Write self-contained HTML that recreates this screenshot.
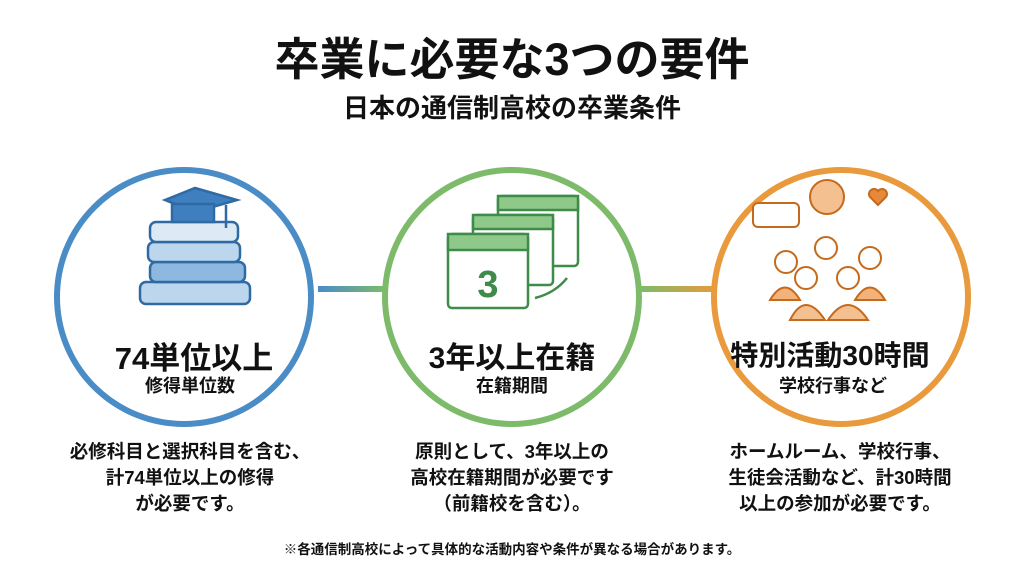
<!DOCTYPE html>
<html><head><meta charset="utf-8"><style>
body{margin:0;width:1024px;height:572px;background:#fff;overflow:hidden;font-family:"Liberation Sans","Noto Sans CJK JP",sans-serif;color:#111;position:relative}
.t{position:absolute;left:0;width:1024px;text-align:center;font-weight:bold}
.c{position:absolute;text-align:center;font-weight:bold;width:300px}
</style></head><body>
<div class="t" style="top:23px;font-size:45px">卒業に必要な3つの要件</div>
<div class="t" style="top:88px;font-size:26px">日本の通信制高校の卒業条件</div>
<svg width="1024" height="572" style="position:absolute;left:0;top:0">
<defs><linearGradient id="g1"><stop offset="0" stop-color="#4a8cc6"/><stop offset="1" stop-color="#7dbb6a"/></linearGradient>
<linearGradient id="g2"><stop offset="0" stop-color="#7dbb6a"/><stop offset="1" stop-color="#e89a3c"/></linearGradient></defs>
<rect x="318" y="286" width="68" height="6" fill="url(#g1)"/>
<rect x="640" y="286" width="76" height="6" fill="url(#g2)"/>
<circle cx="184" cy="297" r="127" fill="#fff" stroke="#4a8cc6" stroke-width="6"/>
<circle cx="512" cy="297" r="127" fill="#fff" stroke="#7dbb6a" stroke-width="6"/>
<circle cx="841" cy="297" r="127" fill="#fff" stroke="#e89a3c" stroke-width="6"/>
<g stroke="#2f6aa3" stroke-width="2.5" fill="#bcd6ee">
<rect x="140" y="282" width="110" height="22" rx="6"/>
<rect x="150" y="262" width="95" height="20" rx="6" fill="#8fb8e0"/>
<rect x="148" y="242" width="92" height="20" rx="6"/>
<rect x="150" y="222" width="88" height="20" rx="6" fill="#dde9f5"/>
<path d="M165 200 l30 -12 l42 12 l-42 12z" fill="#3f7fc0"/>
<rect x="172" y="204" width="42" height="18" fill="#3f7fc0"/>
<line x1="226" y1="205" x2="226" y2="228"/>
</g>
<g stroke="#3e8b4a" stroke-width="2.5" fill="#fff">
<rect x="498" y="196" width="80" height="70" rx="4"/><rect x="498" y="196" width="80" height="14" fill="#8fc98a"/>
<rect x="473" y="215" width="80" height="70" rx="4"/><rect x="473" y="215" width="80" height="14" fill="#8fc98a"/>
<rect x="448" y="234" width="80" height="74" rx="4"/><rect x="448" y="234" width="80" height="16" fill="#8fc98a"/>
<path d="M535 298 q20 -5 32 -20" fill="none"/>
</g>
<text x="488" y="297" font-size="38" font-weight="bold" fill="#3e8b4a" text-anchor="middle" font-family="Liberation Sans">3</text>
<g stroke="#c46a1c" stroke-width="2" fill="#f2b27a">
<rect x="753" y="203" width="46" height="24" rx="5" fill="#fff"/>
<circle cx="827" cy="197" r="17" fill="#f5c090"/>
<path d="M878 205 l-8 -8 a5 5 0 0 1 8 -6 a5 5 0 0 1 8 6z" fill="#e8893a"/>
<circle cx="786" cy="262" r="11" fill="#fff"/><circle cx="826" cy="248" r="11" fill="#fff"/><circle cx="870" cy="258" r="11" fill="#fff"/>
<circle cx="806" cy="278" r="11" fill="#fff"/><circle cx="848" cy="278" r="11" fill="#fff"/>
<path d="M770 300 q15 -25 30 0z M855 300 q15 -25 30 0z"/>
<path d="M790 320 q15 -30 35 0z M828 320 q20 -30 40 0z" fill="#f5c090"/>
</g>
</svg>
<div class="c" style="left:44px;top:333px;font-size:31px">74単位以上</div>
<div class="c" style="left:40px;top:372px;font-size:18px">修得単位数</div>
<div class="c" style="left:362px;top:333px;font-size:30px">3年以上在籍</div>
<div class="c" style="left:362px;top:372px;font-size:18px">在籍期間</div>
<div class="c" style="left:680px;top:334px;font-size:28px">特別活動30時間</div>
<div class="c" style="left:683px;top:372px;font-size:18px">学校行事など</div>
<div class="c" style="left:40px;top:439px;font-size:18.5px;line-height:26px">必修科目と選択科目を含む、<br>計74単位以上の修得<br>が必要です。</div>
<div class="c" style="left:362px;top:439px;font-size:18.5px;line-height:26px">原則として、3年以上の<br>高校在籍期間が必要です<br>（前籍校を含む）。</div>
<div class="c" style="left:690px;top:439px;font-size:18.5px;line-height:26px;width:310px;margin-left:-5px">ホームルーム、学校行事、<br>生徒会活動など、計30時間<br>以上の参加が必要です。</div>
<div class="t" style="top:538px;font-size:13.5px">※各通信制高校によって具体的な活動内容や条件が異なる場合があります。</div>
</body></html>
